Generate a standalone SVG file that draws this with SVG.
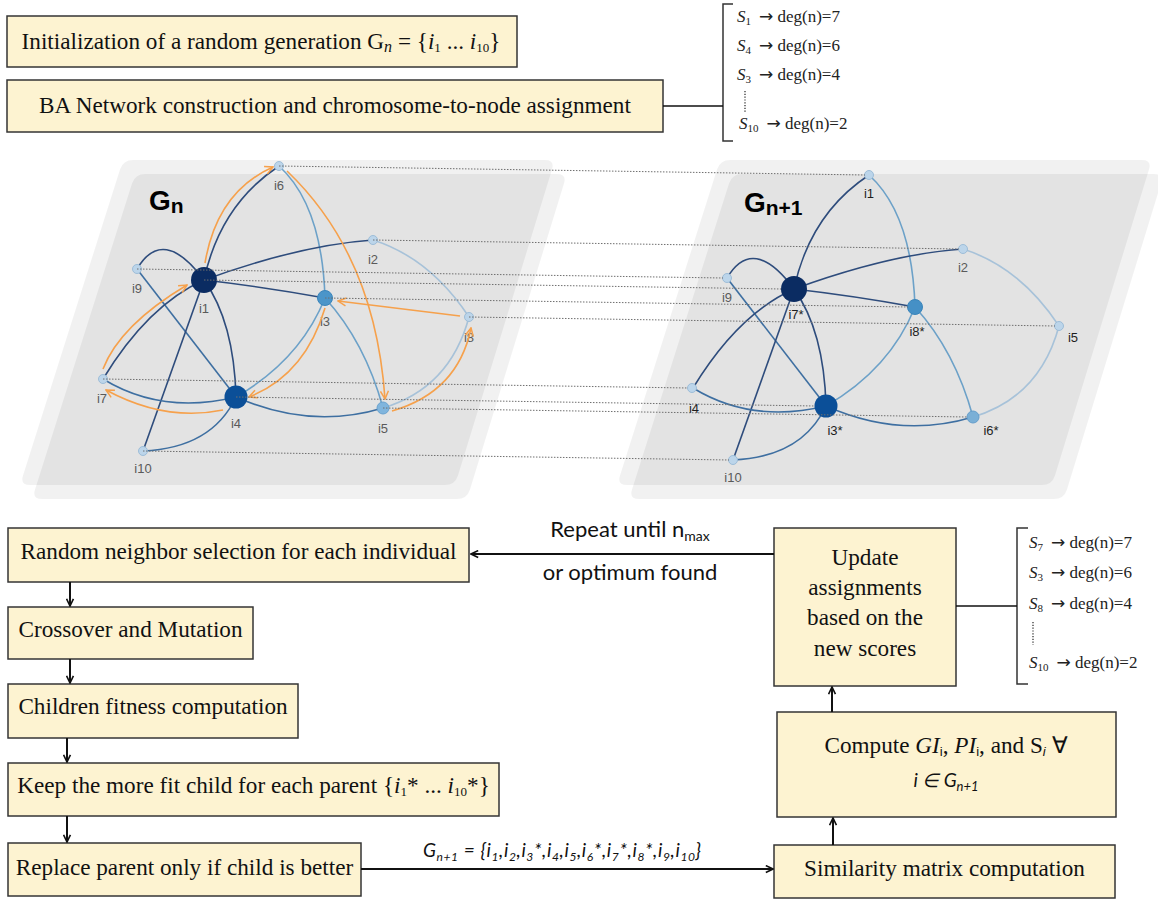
<svg xmlns="http://www.w3.org/2000/svg" xmlns:xlink="http://www.w3.org/1999/xlink" width="1158" height="902" viewBox="0 0 1158 902">
  <style>
    .box { fill: #fdf3d1; stroke: #353535; stroke-width: 1.5; }
    .t { font-family: "Liberation Serif", "Times New Roman", serif; font-size: 23.2px; fill: #111; }
    .it { font-style: italic; }
    .lst { font-family: "Liberation Serif", "Times New Roman", serif; font-size: 17px; fill: #222; }
    .arr { font-family: "DejaVu Sans", sans-serif; font-size: 17px; }
    .sans { font-family: Lato, "Liberation Sans", Arial, sans-serif; fill: #111; }
    .brk { fill: none; stroke: #333; stroke-width: 1.5; }
    .vdots { fill: none; stroke: #333; stroke-width: 1.3; stroke-dasharray: 1.2 1.6; }
    .pnl { fill: #000; fill-opacity: 0.055; }
    .edge { fill: none; stroke-width: 1.6; }
    .dk { stroke: #2e4c7c; }
    .md { stroke: #3e6fa1; }
    .lb { stroke: #6ca1c8; }
    .vl { stroke: #a7c2d9; }
    .sw { fill: none; stroke: #f6a14c; stroke-width: 1.6; marker-end: url(#ah-o); }
    .dot { fill: none; stroke: #6f6f6f; stroke-width: 1; stroke-dasharray: 1.5 1.5; }
    .nsm { fill: #bcd5ea; stroke: #9dbdd8; stroke-width: 1; }
    .nl { font-family: "Liberation Sans", Arial, sans-serif; font-size: 13px; fill: #5a5a5a; text-anchor: middle; }
    .nd { fill: #1e1e1e; }
    .glab { font-family: "Liberation Sans", Arial, sans-serif; font-weight: bold; font-size: 28px; fill: #000; }
    .flow { fill: none; stroke: #111; stroke-width: 2; marker-end: url(#ah-k); }
    .plain { fill: none; stroke: #111; stroke-width: 1.5; }
  </style>
  <defs>
    <marker id="ah-o" viewBox="0 0 10 10" refX="9" refY="5" markerWidth="10" markerHeight="10" markerUnits="userSpaceOnUse" orient="auto">
      <path d="M1,1 L9,5 L1,9" fill="none" stroke="#f6a14c" stroke-width="1.5"/>
    </marker>
    <marker id="ah-k" viewBox="0 0 10 10" refX="9" refY="5" markerWidth="9" markerHeight="9" markerUnits="userSpaceOnUse" orient="auto">
      <path d="M1,1.2 L9,5 L1,8.8" fill="none" stroke="#111" stroke-width="1.8"/>
    </marker>
    <!-- slanted plane used behind each network -->
    <path id="panel" d="M133,160 L545,160 Q555,160 552,169.6 L458,475.4 Q455,485 445,485 L30,485 Q20,485 23,475.5 L120,169.5 Q123,160 133,160 Z"/>
    <!-- BA network edges, drawn in the coordinates of the left plane -->
    <g id="ba-edges" class="edge">
      <path class="edge dk" d="M204,280 Q220,205 279,166"/>
      <path class="edge lb" d="M279,166 Q322,205 325,298"/>
      <path class="edge dk" d="M204,280 Q300,245 373,240"/>
      <path class="edge vl" d="M373,240 Q430,258 469,317"/>
      <path class="edge dk" d="M204,280 Q265,287 325,298"/>
      <path class="edge dk" d="M137,269 Q163,225 204,280"/>
      <path class="edge md" d="M137,269 L236,397"/>
      <path class="edge dk" d="M204,280 Q148,305 103,379"/>
      <path class="edge dk" d="M204,280 L143,451"/>
      <path class="edge dk" d="M204,280 Q234,322 236,397"/>
      <path class="edge md" d="M103,379 Q162,415 236,397"/>
      <path class="edge lb" d="M236,397 Q300,360 325,298"/>
      <path class="edge md" d="M236,397 Q310,430 383,408"/>
      <path class="edge lb" d="M325,298 Q365,342 383,408"/>
      <path class="edge md" d="M236,397 Q212,448 143,451"/>
      <path class="edge vl" d="M383,408 Q450,388 469,317"/>
    </g>
  </defs>

  <!-- top flow steps -->
  <g id="step-init">
    <rect class="box" x="7" y="16" width="510" height="51"/>
    <text class="t" x="261" y="49" text-anchor="middle">Initialization of a random generation G<tspan class="it" font-size="16" dy="3">n</tspan><tspan dy="-3"> = {</tspan><tspan class="it">i</tspan><tspan font-size="13" dy="3">1</tspan><tspan dy="-3"> ... </tspan><tspan class="it">i</tspan><tspan font-size="13" dy="3">10</tspan><tspan dy="-3">}</tspan></text>
  </g>
  <g id="step-ba">
    <rect class="box" x="7" y="80" width="656" height="52"/>
    <text class="t" x="335" y="113" text-anchor="middle">BA Network construction and chromosome-to-node assignment</text>
  </g>
  <g id="list-initial">
    <path class="brk" d="M733,4 L723,4 L723,141 L733,141"/>
    <text class="lst" x="737" y="22"><tspan class="it">S</tspan><tspan font-size="11" dy="3">1</tspan><tspan class="arr" dy="-3" dx="8">→</tspan> deg(n)=7</text>
    <text class="lst" x="737" y="51"><tspan class="it">S</tspan><tspan font-size="11" dy="3">4</tspan><tspan class="arr" dy="-3" dx="8">→</tspan> deg(n)=6</text>
    <text class="lst" x="737" y="80"><tspan class="it">S</tspan><tspan font-size="11" dy="3">3</tspan><tspan class="arr" dy="-3" dx="8">→</tspan> deg(n)=4</text>
    <path class="vdots" d="M745,91 L745,112"/>
    <text class="lst" x="739" y="129"><tspan class="it">S</tspan><tspan font-size="11" dy="3">10</tspan><tspan class="arr" dy="-3" dx="8">→</tspan> deg(n)=2</text>
  </g>

  <!-- network planes -->
  <g id="planes">
    <use xlink:href="#panel" class="pnl"/>
    <use xlink:href="#panel" class="pnl" transform="translate(12,14)"/>
    <use xlink:href="#panel" class="pnl" transform="translate(597,0)"/>
    <use xlink:href="#panel" class="pnl" transform="translate(609,14)"/>
  </g>

  <!-- network G_n -->
  <g id="net-gn">
    <text class="glab" x="149" y="210">G<tspan font-size="21" dy="3">n</tspan></text>
    <use xlink:href="#ba-edges"/>
    <g id="gn-i6"><circle class="nsm" cx="279" cy="166" r="4.5"/><text class="nl" x="279" y="190">i6</text></g>
    <g id="gn-i2"><circle class="nsm" cx="373" cy="240" r="4.5"/><text class="nl" x="373" y="264">i2</text></g>
    <g id="gn-i9"><circle class="nsm" cx="137" cy="269" r="4.5"/><text class="nl" x="137" y="293">i9</text></g>
    <g id="gn-i1"><circle cx="204" cy="280" r="13" fill="#0b2c62"/><text class="nl" x="204" y="313">i1</text></g>
    <g id="gn-i3"><circle cx="325" cy="298" r="7.5" fill="#4b95c9" stroke="#3a85bb"/><text class="nl" x="325" y="326">i3</text></g>
    <g id="gn-i8"><circle class="nsm" cx="469" cy="317" r="4.5"/><text class="nl" x="469" y="342">i8</text></g>
    <g id="gn-i7"><circle class="nsm" cx="103" cy="379" r="4.5"/><text class="nl" x="102" y="403">i7</text></g>
    <g id="gn-i4"><circle cx="236" cy="397" r="11.5" fill="#0b4f98"/><text class="nl" x="236" y="428">i4</text></g>
    <g id="gn-i5"><circle cx="383" cy="408" r="6" fill="#80b5dd" stroke="#6aa3cf"/><text class="nl" x="383" y="433">i5</text></g>
    <g id="gn-i10"><circle class="nsm" cx="143" cy="451" r="4.5"/><text class="nl" x="143" y="473">i10</text></g>
    <!-- exchanges between neighbouring individuals -->
    <g id="gn-swaps">
      <path class="sw" d="M103,369 Q120,325 187,285"/>
      <path class="sw" d="M205,263 Q217,192 273,167"/>
      <path class="sw" d="M287,171 Q375,255 385,399"/>
      <path class="sw" d="M392,411 Q458,392 471,328"/>
      <path class="sw" d="M460,316 L338,301"/>
      <path class="sw" d="M325,308 Q305,375 249,397"/>
      <path class="sw" d="M223,410 Q165,422 106,390"/>
    </g>
  </g>

  <!-- network G_n+1 -->
  <g id="net-gn1">
    <text class="glab" x="744" y="212">G<tspan font-size="21" dy="3">n+1</tspan></text>
    <use xlink:href="#ba-edges" transform="translate(590,9)"/>
    <g id="gn1-i1"><circle class="nsm" cx="869" cy="175" r="4.5"/><text class="nl nd" x="869" y="198">i1</text></g>
    <g id="gn1-i2"><circle class="nsm" cx="963" cy="249" r="4.5"/><text class="nl" x="963" y="272">i2</text></g>
    <g id="gn1-i9"><circle class="nsm" cx="727" cy="278" r="4.5"/><text class="nl" x="727" y="302">i9</text></g>
    <g id="gn1-i7s"><circle cx="794" cy="289" r="13" fill="#0b2c62"/><text class="nl nd" x="796" y="319">i7*</text></g>
    <g id="gn1-i8s"><circle cx="915" cy="307" r="7.5" fill="#4590c6" stroke="#3a85bb"/><text class="nl nd" x="917" y="336">i8*</text></g>
    <g id="gn1-i5"><circle class="nsm" cx="1059" cy="326" r="4.5"/><text class="nl nd" x="1073" y="342">i5</text></g>
    <g id="gn1-i4"><circle class="nsm" cx="692" cy="388" r="4.5"/><text class="nl nd" x="694" y="413">i4</text></g>
    <g id="gn1-i3s"><circle cx="826" cy="406" r="11.5" fill="#0b4f98"/><text class="nl nd" x="835" y="435">i3*</text></g>
    <g id="gn1-i6s"><circle cx="973" cy="417" r="6" fill="#7aafd6" stroke="#659ecb"/><text class="nl nd" x="991" y="435">i6*</text></g>
    <g id="gn1-i10"><circle class="nsm" cx="733" cy="460" r="4.5"/><text class="nl" x="733" y="482">i10</text></g>
  </g>

  <!-- position links between the two generations -->
  <g id="position-links">
    <path class="dot" d="M279,166 L865,175"/>
    <path class="dot" d="M373,240 L959,249"/>
    <path class="dot" d="M137,269 L723,278"/>
    <path class="dot" d="M204,280 L781,289"/>
    <path class="dot" d="M325,298 L908,307"/>
    <path class="dot" d="M469,317 L1055,326"/>
    <path class="dot" d="M103,379 L688,388"/>
    <path class="dot" d="M236,397 L815,406"/>
    <path class="dot" d="M383,408 L967,417"/>
    <path class="dot" d="M143,451 L729,460"/>
  </g>

  <!-- lower flow steps -->
  <g id="step-neighbor">
    <rect class="box" x="8" y="528" width="461" height="54"/>
    <text class="t" x="238.5" y="559" text-anchor="middle">Random neighbor selection for each individual</text>
  </g>
  <g id="step-crossover">
    <rect class="box" x="8" y="607" width="245" height="52"/>
    <text class="t" x="130.5" y="637" text-anchor="middle">Crossover and Mutation</text>
  </g>
  <g id="step-fitness">
    <rect class="box" x="8" y="684" width="290" height="54"/>
    <text class="t" x="153" y="714" text-anchor="middle">Children fitness computation</text>
  </g>
  <g id="step-keep">
    <rect class="box" x="8" y="763" width="491" height="53"/>
    <text class="t" x="253.5" y="793" text-anchor="middle">Keep the more fit child for each parent {<tspan class="it">i</tspan><tspan font-size="13" dy="3">1</tspan><tspan dy="-3">* ... </tspan><tspan class="it">i</tspan><tspan font-size="13" dy="3">10</tspan><tspan dy="-3">*}</tspan></text>
  </g>
  <g id="step-replace">
    <rect class="box" x="8" y="843" width="353" height="53"/>
    <text class="t" x="184.5" y="875" text-anchor="middle">Replace parent only if child is better</text>
  </g>
  <g id="step-similarity">
    <rect class="box" x="774" y="845" width="341" height="53"/>
    <text class="t" x="944.5" y="876" text-anchor="middle">Similarity matrix computation</text>
  </g>
  <g id="step-compute">
    <rect class="box" x="777" y="712" width="339" height="105"/>
    <text class="t" x="946" y="753" text-anchor="middle">Compute <tspan class="it">GI</tspan><tspan font-family="Liberation Sans, Arial, sans-serif" font-size="13" dy="3">i</tspan><tspan dy="-3">, </tspan><tspan class="it">PI</tspan><tspan font-family="Liberation Sans, Arial, sans-serif" font-size="13" dy="3">i</tspan><tspan dy="-3">, and S</tspan><tspan font-family="Liberation Sans, Arial, sans-serif" font-style="italic" font-size="13" dy="3">i</tspan><tspan dy="-3"> ∀</tspan></text>
    <text class="sans" x="946" y="787" text-anchor="middle" font-style="italic" font-size="19">i ∈ G<tspan font-size="13" dy="4">n+1</tspan></text>
  </g>
  <g id="step-update">
    <rect class="box" x="774" y="528" width="182" height="158"/>
    <text class="t" x="865" y="565" text-anchor="middle">Update</text>
    <text class="t" x="865" y="595" text-anchor="middle">assignments</text>
    <text class="t" x="865" y="625" text-anchor="middle">based on the</text>
    <text class="t" x="865" y="656" text-anchor="middle">new scores</text>
  </g>
  <g id="list-updated">
    <path class="brk" d="M1028,528 L1017,528 L1017,684 L1028,684"/>
    <text class="lst" x="1029" y="548"><tspan class="it">S</tspan><tspan font-size="11" dy="3">7</tspan><tspan class="arr" dy="-3" dx="8">→</tspan> deg(n)=7</text>
    <text class="lst" x="1029" y="578"><tspan class="it">S</tspan><tspan font-size="11" dy="3">3</tspan><tspan class="arr" dy="-3" dx="8">→</tspan> deg(n)=6</text>
    <text class="lst" x="1029" y="609"><tspan class="it">S</tspan><tspan font-size="11" dy="3">8</tspan><tspan class="arr" dy="-3" dx="8">→</tspan> deg(n)=4</text>
    <path class="vdots" d="M1033,622 L1033,645"/>
    <text class="lst" x="1029" y="668"><tspan class="it">S</tspan><tspan font-size="11" dy="3">10</tspan><tspan class="arr" dy="-3" dx="8">→</tspan> deg(n)=2</text>
  </g>

  <!-- connectors -->
  <g id="connectors">
    <path class="plain" d="M663,106 L723,106"/>
    <path class="plain" d="M956,606 L1017,606"/>
    <path class="flow" d="M774,554 L471,554"/>
    <path class="flow" d="M70,582 L70,606"/>
    <path class="flow" d="M70,659 L70,683"/>
    <path class="flow" d="M67,738 L67,762"/>
    <path class="flow" d="M67,816 L67,842"/>
    <path class="flow" d="M361,869 L773,869"/>
    <path class="flow" d="M833,845 L833,818"/>
    <path class="flow" d="M832,712 L832,687"/>
    <text class="sans" x="630" y="537" text-anchor="middle" font-size="22">Repeat until n<tspan font-size="14" dy="4">max</tspan></text>
    <text class="sans" x="630" y="580" text-anchor="middle" font-size="22">or optimum found</text>
    <text class="sans" x="562" y="857" text-anchor="middle" font-style="italic" font-size="19" textLength="278" lengthAdjust="spacing">G<tspan font-size="12" dy="4">n+1</tspan><tspan dy="-4"> = {i</tspan><tspan font-size="12" dy="4">1</tspan><tspan dy="-4">,i</tspan><tspan font-size="12" dy="4">2</tspan><tspan dy="-4">,i</tspan><tspan font-size="12" dy="4">3</tspan><tspan dy="-4">*,i</tspan><tspan font-size="12" dy="4">4</tspan><tspan dy="-4">,i</tspan><tspan font-size="12" dy="4">5</tspan><tspan dy="-4">,i</tspan><tspan font-size="12" dy="4">6</tspan><tspan dy="-4">*,i</tspan><tspan font-size="12" dy="4">7</tspan><tspan dy="-4">*,i</tspan><tspan font-size="12" dy="4">8</tspan><tspan dy="-4">*,i</tspan><tspan font-size="12" dy="4">9</tspan><tspan dy="-4">,i</tspan><tspan font-size="12" dy="4">10</tspan><tspan dy="-4">}</tspan></text>
  </g>
</svg>
